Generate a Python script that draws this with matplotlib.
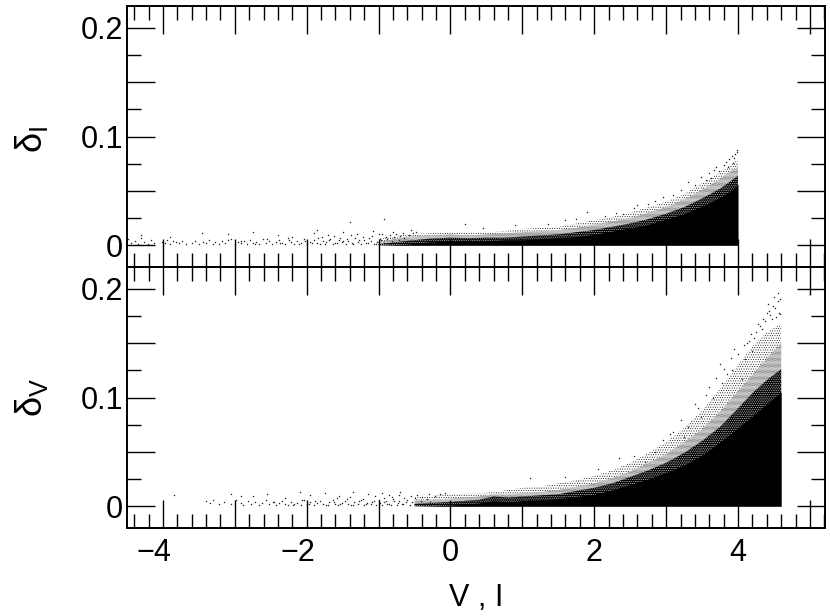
import matplotlib
matplotlib.use('Agg')
import matplotlib.pyplot as plt
from matplotlib.ticker import MultipleLocator, FixedLocator, FixedFormatter
from matplotlib.transforms import ScaledTranslation

# envelopes of the point cloud: core = solid black,
# dark = nearly black, mid = dense dots, fringe = last sparse dots
top_x = [-1.0, -0.6, -0.3, 0.0, 0.25, 0.5, 0.75, 1.0, 1.25, 1.5, 1.75, 2.0, 2.25, 2.5, 2.75, 3.0, 3.25, 3.5, 3.75, 3.9, 4.0]
top_core = [0.000, 0.001, 0.003, 0.004, 0.0045, 0.004, 0.005, 0.005, 0.006, 0.007, 0.008, 0.010, 0.013, 0.016, 0.019, 0.024, 0.029, 0.036, 0.044, 0.050, 0.056]
top_dark = [0.001, 0.004, 0.006, 0.007, 0.0065, 0.007, 0.007, 0.008, 0.009, 0.010, 0.012, 0.014, 0.017, 0.020, 0.024, 0.029, 0.035, 0.043, 0.052, 0.059, 0.064]
top_mid = [0.003, 0.008, 0.009, 0.010, 0.009, 0.010, 0.011, 0.012, 0.013, 0.014, 0.016, 0.019, 0.022, 0.025, 0.030, 0.035, 0.042, 0.051, 0.061, 0.068, 0.072]
top_fringe = [0.006, 0.010, 0.011, 0.012, 0.012, 0.012, 0.013, 0.015, 0.016, 0.017, 0.020, 0.023, 0.026, 0.030, 0.035, 0.040, 0.047, 0.057, 0.067, 0.074, 0.079]

low_x = [-0.5, 0.0, 0.4, 0.6, 0.8, 1.0, 1.25, 1.5, 1.75, 2.0, 2.25, 2.5, 2.75, 3.0, 3.25, 3.5, 3.75, 4.0, 4.2, 4.4, 4.6]
low_core = [0.000, 0.001, 0.003, 0.005, 0.004, 0.005, 0.006, 0.007, 0.009, 0.011, 0.015, 0.020, 0.025, 0.031, 0.038, 0.047, 0.059, 0.072, 0.083, 0.094, 0.105]
low_dark = [0.002, 0.004, 0.006, 0.009, 0.008, 0.009, 0.010, 0.011, 0.014, 0.017, 0.021, 0.027, 0.033, 0.040, 0.049, 0.060, 0.073, 0.090, 0.104, 0.116, 0.126]
low_mid = [0.005, 0.007, 0.009, 0.011, 0.011, 0.012, 0.013, 0.015, 0.018, 0.021, 0.026, 0.032, 0.040, 0.048, 0.059, 0.071, 0.087, 0.106, 0.121, 0.136, 0.150]
low_fringe = [0.008, 0.011, 0.012, 0.013, 0.015, 0.017, 0.018, 0.021, 0.024, 0.028, 0.033, 0.040, 0.049, 0.059, 0.072, 0.088, 0.108, 0.130, 0.147, 0.160, 0.168]

# single dots in the sparse part
top_dots_x = [-4.48, -4.44, -4.39, -4.35, -4.3, -4.26, -4.21, -4.17, -4.12, -4.02, -3.97, -3.94, -3.9, -3.86,
              -3.82, -3.77, -3.73, -3.68, -3.6, -3.55, -3.5, -3.44, -3.4, -3.36, -3.31, -3.27, -3.22, -3.18,
              -3.13, -3.09, -3.05, -3.0, -2.96, -2.92, -2.87, -2.83, -2.79, -2.75, -2.7, -2.66, -2.61, -2.57,
              -2.52, -2.48, -2.43, -2.39, -2.34, -2.3, -2.26, -2.22, -2.17, -2.13, -2.08, -2.04, -1.99, -1.95,
              -1.9, -1.86, -1.82, -1.77, -1.73, -1.68, -1.64, -1.6, -1.55, -1.51, -1.46, -1.42, -1.37, -1.33,
              -1.29, -1.24, -1.2, -1.15, -1.11, -1.06, -1.02, -0.98, -2.4, -2.2, -1.9, -1.7, -1.5, -1.3, -1.08,
              -0.95, -0.8, -0.55, -4.3, -3.9, -3.45, -3.1, -2.75, -1.85, -1.4, -0.92, 0.2, 1.9, 2.6, 3.1, 3.3, 3.55,
              3.62, 3.7, 3.8, 3.88, 3.93, 3.96, 3.98, 3.99, 0.45, 0.9, 1.35, 1.6, 2.15, 2.4, 2.75, 2.95, 3.2, 3.4,
              3.48, 3.6, 3.66, 3.74, 3.83, 3.86, 3.91, 3.94, 2.85, 2.55, 2.3, 1.75,
              -2.91, -2.72, -2.55, -2.37, -2.24, -2.11, -2.02, -1.93, -1.84, -1.75, -1.69, -1.58, -1.49, -1.44, -1.35,
              -1.27, -1.18, -1.13, -1.04, -0.97, -0.93, -0.89, -0.86, -0.82, -0.78, -0.75, -0.71, -0.68, -0.64, -0.61,
              -1.79, -1.62, -1.53, -1.39, -1.22, -1.09, -1.0, -0.9, -0.84, -0.76, -0.7, -0.66, -0.58, -0.52, -0.48]
top_dots_y = [0.006, 0.002, 0.004, 0.001, 0.007, 0.003, 0.001, 0.005, 0.002, 0.003, 0.002, 0.005, 0.001, 0.004,
              0.003, 0.002, 0.004, 0.001, 0.002, 0.004, 0.001, 0.003, 0.002, 0.005, 0.001, 0.003, 0.001, 0.004,
              0.002, 0.005, 0.006, 0.001, 0.003, 0.002, 0.004, 0.001, 0.005, 0.002, 0.003, 0.001, 0.006, 0.002,
              0.004, 0.001, 0.003, 0.005, 0.002, 0.001, 0.007, 0.003, 0.001, 0.004, 0.002, 0.006, 0.001, 0.003,
              0.005, 0.002, 0.001, 0.004, 0.003, 0.006, 0.001, 0.002, 0.005, 0.003, 0.001, 0.004, 0.002, 0.007,
              0.003, 0.001, 0.005, 0.002, 0.004, 0.001, 0.003, 0.006, 0.009, 0.008, 0.011, 0.009, 0.012, 0.010,
              0.013, 0.010, 0.012, 0.014, 0.009, 0.008, 0.011, 0.010, 0.012, 0.014, 0.021, 0.024, 0.020, 0.031,
              0.037, 0.046, 0.058, 0.060, 0.062, 0.072, 0.074, 0.079, 0.076, 0.084, 0.086, 0.088, 0.016, 0.019, 0.020,
              0.023, 0.027, 0.029, 0.038, 0.044, 0.051, 0.055, 0.063, 0.066, 0.069, 0.068, 0.077, 0.072, 0.082, 0.080,
              0.041, 0.034, 0.030, 0.024,
              0.0035, 0.0015, 0.0055, 0.0025, 0.0045, 0.0015, 0.0035, 0.0025, 0.0065, 0.0015, 0.0045, 0.0025, 0.0035, 0.0055, 0.0015,
              0.0045, 0.0025, 0.0065, 0.0015, 0.0045, 0.0025, 0.0055, 0.0015, 0.0035, 0.0075, 0.0025, 0.0045, 0.0015, 0.0065, 0.0035,
              0.0075, 0.0085, 0.0065, 0.0095, 0.0075, 0.0085, 0.0105, 0.0075, 0.0095, 0.0105, 0.0085, 0.0115, 0.0095, 0.0115, 0.0125]

low_dots_x = [-3.4, -3.35, -3.3, -3.22, -3.15, -3.05, -2.98, -2.92, -2.88, -2.82, -2.78, -2.72, -2.66, -2.62,
              -2.57, -2.52, -2.47, -2.43, -2.39, -2.34, -2.3, -2.26, -2.22, -2.17, -2.13, -2.08, -2.04, -1.99,
              -1.95, -1.9, -1.86, -1.82, -1.78, -1.73, -1.69, -1.64, -1.6, -1.56, -1.51, -1.47, -1.42, -1.38,
              -1.34, -1.29, -1.25, -1.2, -1.16, -1.11, -1.07, -1.03, -0.98, -0.93, -0.88, -0.83, -0.78, -0.73,
              -0.68, -0.62, -2.75, -2.55, -2.3, -2.1, -1.95, -1.75, -1.55, -1.35, -1.15, -0.95, -0.85, -0.7,
              -3.85, -2.92, -3.05, 1.1, 2.7, 2.85, 3.1, 3.3, 3.45, 3.65, 3.75, 3.85, 3.95, 4.05, 4.12, 4.22, 4.3,
              4.35, 4.4, 4.42, 4.45, 4.48, 4.5, 4.52, 4.55, 4.56, 4.58, 1.6, 2.05, 2.35, 2.55, 2.95, 3.05, 3.2,
              3.4, 3.55, 3.6, 3.7, 3.8, 3.9, 4.0, 4.08, 4.15, 4.18, 4.25, 4.28, 4.33, 4.38, 4.43, 4.47, 4.53, 4.57,
              4.59, 4.2, 4.1, 3.92, 3.78, 3.48, 3.25,
              -2.45, -2.19, -2.06, -1.97, -1.88, -1.71, -1.62, -1.53, -1.44, -1.36, -1.27, -1.18, -1.09, -1.0, -0.95,
              -0.9, -0.86, -0.8, -0.75, -0.71, -0.66, -0.6, -0.57, -0.54, -0.5, -0.45, -0.41, -0.37, -0.33, -0.28,
              -1.58, -1.4, -1.22, -1.05, -0.92, -0.82, -0.72, -0.64, -0.55, -0.47, -0.39, -0.3, -0.22, -0.15, -0.08]
low_dots_y = [0.005, 0.003, 0.006, 0.002, 0.004, 0.002, 0.006, 0.003, 0.001, 0.005, 0.002, 0.004, 0.001, 0.003,
              0.006, 0.002, 0.004, 0.001, 0.003, 0.005, 0.002, 0.001, 0.004, 0.002, 0.003, 0.001, 0.006, 0.002,
              0.004, 0.001, 0.003, 0.005, 0.002, 0.001, 0.004, 0.006, 0.002, 0.001, 0.003, 0.005, 0.002, 0.001,
              0.004, 0.002, 0.006, 0.001, 0.003, 0.002, 0.005, 0.001, 0.003, 0.004, 0.002, 0.001, 0.005, 0.003,
              0.002, 0.004, 0.009, 0.011, 0.008, 0.013, 0.010, 0.012, 0.009, 0.013, 0.011, 0.012, 0.010, 0.013,
              0.010, 0.009, 0.011, 0.026, 0.041, 0.050, 0.068, 0.073, 0.090, 0.100, 0.131, 0.122, 0.145, 0.117,
              0.150, 0.155, 0.166, 0.172, 0.178, 0.186, 0.176, 0.184, 0.192, 0.182, 0.196, 0.189, 0.191, 0.027, 0.034,
              0.044, 0.046, 0.061, 0.066, 0.079, 0.094, 0.102, 0.110, 0.118, 0.126, 0.136, 0.140, 0.148, 0.152, 0.158,
              0.160, 0.168, 0.163, 0.170, 0.180, 0.172, 0.174, 0.178, 0.177, 0.143, 0.135, 0.125, 0.113, 0.082, 0.064,
              0.0035, 0.0015, 0.0055, 0.0025, 0.0045, 0.0015, 0.0035, 0.0025, 0.0065, 0.0015, 0.0045, 0.0025, 0.0035, 0.0055, 0.0015,
              0.0045, 0.0025, 0.0065, 0.0015, 0.0045, 0.0025, 0.0055, 0.0015, 0.0035, 0.0075, 0.0025, 0.0045, 0.0015, 0.0065, 0.0035,
              0.0075, 0.0085, 0.0065, 0.0095, 0.0075, 0.0085, 0.0105, 0.0075, 0.0095, 0.0105, 0.0085, 0.0115, 0.0095, 0.0115, 0.0125]

plt.rcParams['font.family'] = 'Liberation Sans'
plt.rcParams['mathtext.fontset'] = 'custom'
plt.rcParams['mathtext.rm'] = 'Liberation Sans'
plt.rcParams['mathtext.default'] = 'rm'
plt.rcParams['font.size'] = 22
plt.rcParams['hatch.linewidth'] = 0.35

W, H = 830, 616
fig = plt.figure(figsize=(W / 100, H / 100), dpi=100)
ax_top = fig.add_axes([127 / W, (H - 267) / H, 698 / W, 261 / H])
ax_low = fig.add_axes([127 / W, (H - 528) / H, 698 / W, 261 / H])


def draw_cloud(ax, x, core, dark, mid, fringe, dots_x, dots_y):
    zero = [0] * len(x)
    ax.fill_between(x, zero, fringe, facecolor='none', edgecolor='black', hatch='.......', linewidth=0)
    ax.fill_between(x, zero, mid, facecolor='white', edgecolor='black', hatch='..............', linewidth=0)
    # white specks on black for the nearly solid band
    ax.fill_between(x, zero, dark, facecolor='black', edgecolor='white', hatch='.........', linewidth=0)
    ax.fill_between(x, zero, core, color='black', linewidth=0)
    ax.scatter(dots_x, dots_y, s=1.1, color='#222222', marker='o', linewidths=0)


draw_cloud(ax_top, top_x, top_core, top_dark, top_mid, top_fringe, top_dots_x, top_dots_y)
draw_cloud(ax_low, low_x, low_core, low_dark, low_mid, low_fringe, low_dots_x, low_dots_y)

for ax in (ax_top, ax_low):
    ax.set_xlim(-4.5, 5.21)
    ax.set_ylim(-0.02, 0.22)
    ax.xaxis.set_major_locator(MultipleLocator(1))
    ax.xaxis.set_minor_locator(MultipleLocator(0.2))
    ax.yaxis.set_minor_locator(MultipleLocator(0.025))
    ax.tick_params(which='major', direction='in', top=True, right=True, length=20, width=1.0, labelsize=22, pad=3)
    ax.tick_params(which='minor', direction='in', top=True, right=True, length=10, width=1.0)
    ax.set_yticks([0.0, 0.05, 0.1, 0.15, 0.2])
    ax.set_yticklabels(['0', '', '0.1', '', '0.2'])
    for s in ax.spines.values():
        s.set_linewidth(1.4)

ax_top.tick_params(axis='x', labelbottom=False)
ax_low.xaxis.set_major_locator(FixedLocator([-4, -3, -2, -1, 0, 1, 2, 3, 4, 5]))
ax_low.xaxis.set_major_formatter(FixedFormatter(['\u22124', '', '\u22122', '', '0', '', '2', '', '4', '']))
ax_low.tick_params(axis='x', pad=7)
# the minus hangs out to the left of the tick
shift = ScaledTranslation(-9 / 100, 0, fig.dpi_scale_trans)
for lab in ax_low.get_xticklabels()[:4]:
    lab.set_transform(lab.get_transform() + shift)

ax_low.set_xlabel('V , I', fontsize=22)
ax_low.xaxis.set_label_coords(0.5, -0.212)
ax_top.set_ylabel(r'$\mathrm{\delta_I}$', fontsize=26)
ax_top.yaxis.set_label_coords(-0.11, 0.487)
ax_low.set_ylabel(r'$\mathrm{\delta_V}$', fontsize=26)
ax_low.yaxis.set_label_coords(-0.11, 0.50)

fig.savefig('out.png', dpi=100)
